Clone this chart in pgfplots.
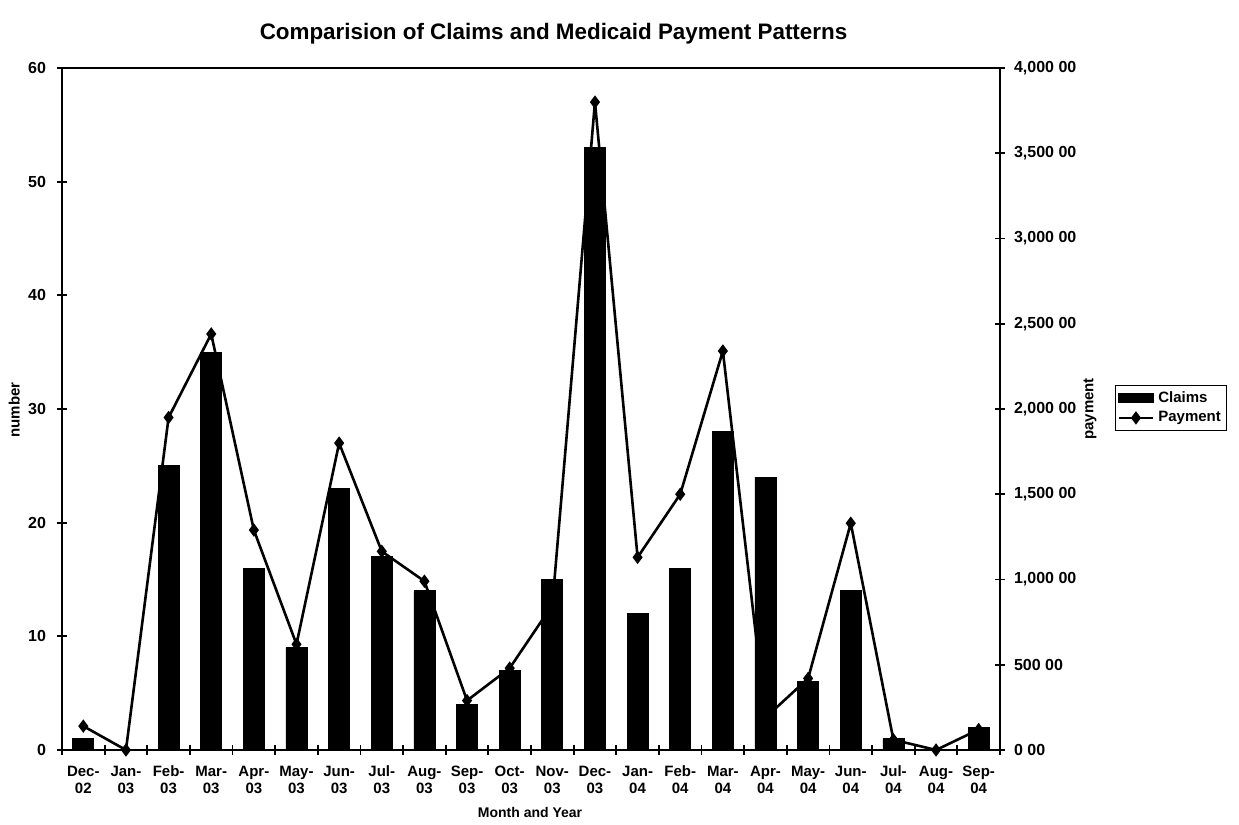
\documentclass[border=0pt]{standalone}
\usepackage{pgfplots}
\pgfplotsset{compat=1.18}
\usetikzlibrary{calc}
\usepackage{fontspec}
\setmainfont{Liberation Sans}
\pgfplotstableread{
x claims payment
0 1 140
1 0 0
2 25 1950
3 35 2440
4 16 1290
5 9 620
6 23 1800
7 17 1165
8 14 990
9 4 290
10 7 480
11 15 850
12 53 3800
13 12 1130
14 16 1500
15 28 2340
16 24 190
17 6 420
18 14 1330
19 1 60
20 0 0
21 2 120
}\datatable
\begin{document}
\begin{tikzpicture}[x=1pt,y=1pt]
\pgfplotsset{
  common/.style={
    width=469pt, height=341pt, scale only axis,
    xmin=-0.5, xmax=21.5,
    tick align=center,
    major tick length=5pt,
    minor tick length=5pt,
    every tick/.style={black, line width=0.9pt},
    axis line style={line width=1.3pt},
    clip=false,
    /pgf/number format/assume math mode=true,
  }
}
\begin{axis}[common,
  ymin=0, ymax=60, ytick={0,10,...,60},
  ytick pos=left,
  xtick={0,...,21},
  xtick pos=bottom,
  major x tick style={draw=none},
  minor xtick={-0.5,0.5,...,21.5},
  xticklabels={Dec-\\02,Jan-\\03,Feb-\\03,Mar-\\03,Apr-\\03,May-\\03,Jun-\\03,Jul-\\03,Aug-\\03,Sep-\\03,Oct-\\03,Nov-\\03,Dec-\\03,Jan-\\04,Feb-\\04,Mar-\\04,Apr-\\04,May-\\04,Jun-\\04,Jul-\\04,Aug-\\04,Sep-\\04},
  xticklabel style={align=center, font=\fontsize{7.5}{8.5}\selectfont\bfseries, yshift=-2pt},
  yticklabel style={font=\fontsize{8}{9}\selectfont\bfseries, xshift=-2pt},
]
\addplot[ybar, bar width=10.5pt, fill=black, draw=black] table[x=x, y=claims] {\datatable};
\coordinate (SW) at (rel axis cs:0,0);
\node[font=\fontsize{11.2}{13}\selectfont\bfseries] at (rel axis cs:0.524,1.051) {Comparision of Claims and Medicaid Payment Patterns};
\node[font=\fontsize{7}{8}\selectfont\bfseries] at (rel axis cs:0.499,-0.091) {Month and Year};
\node[font=\fontsize{7.5}{8.5}\selectfont\bfseries, rotate=90] at (rel axis cs:-0.051,0.4985) {number};
\end{axis}
\begin{axis}[common,
  ymin=0, ymax=4000, ytick={0,500,...,4000},
  yticklabels={0 00,500 00,{1,000 00},{1,500 00},{2,000 00},{2,500 00},{3,000 00},{3,500 00},{4,000 00}},
  axis y line*=right, axis x line=none,
  yticklabel style={font=\fontsize{8}{9}\selectfont\bfseries, xshift=1pt},
  legend style={at={(rel axis cs:1.1226,0.5015)}, anchor=west, draw=black, line width=0.6pt,
    font=\fontsize{7.5}{8.5}\selectfont\bfseries, inner sep=1pt, row sep=-1pt,
    /tikz/every even column/.append style={column sep=1pt}},
  legend cell align=left,
]
\addlegendimage{legend image code/.code={\fill[black] (0pt,-2.2pt) rectangle (17pt,2.2pt);}}
\addlegendentry{Claims}
\addplot[black, line width=1.3pt, mark=diamond*, mark size=2.3pt] table[x=x, y=payment] {\datatable};
\addlegendentry{Payment}
\node[font=\fontsize{7.5}{8.5}\selectfont\bfseries, rotate=90] at (rel axis cs:1.096,0.5) {payment};
\end{axis}
\pgfresetboundingbox
\path[use as bounding box] ($(SW)+(-31,-37.5)$) rectangle ($(SW)+(588.5,375)$);
\end{tikzpicture}
\end{document}
